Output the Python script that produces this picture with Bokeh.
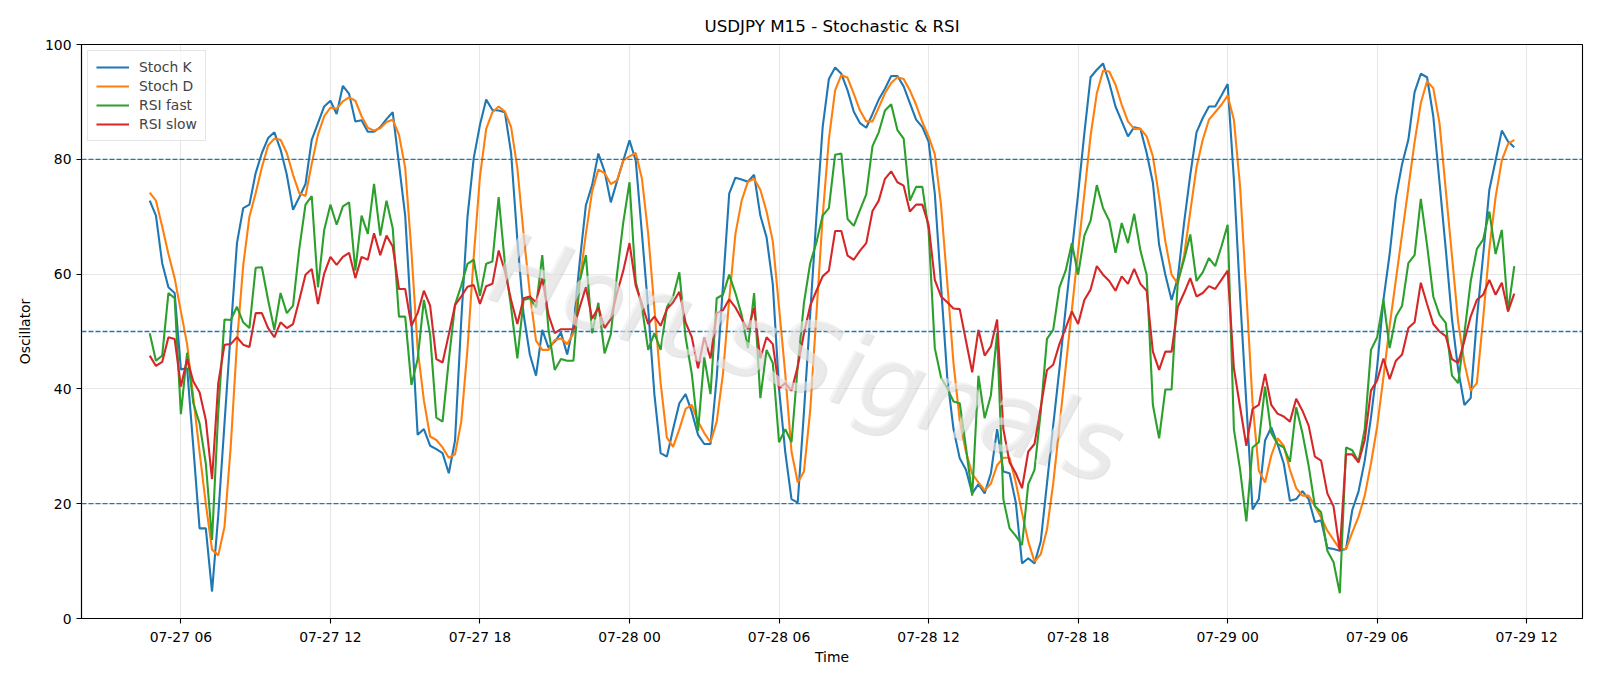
import pandas as pd
from bokeh.plotting import figure
from bokeh.models import ColumnDataSource, Span, Label, FixedTicker, Legend, LegendItem, Range1d
from bokeh.embed import file_html
from bokeh.resources import INLINE

# ---------------- data ----------------
start_time = "2025-07-27 04:45"
n_points = 220

stoch_k = [
    72.8, 70.2, 61.9, 57.7, 56.7, 43.4, 43.6, 29.8, 15.7, 15.7,
    4.7, 18.0, 34.0, 50.0, 65.4, 71.5, 72.1, 77.6, 81.1, 83.7,
    84.7, 81.7, 77.3, 71.2, 73.4, 75.7, 83.4, 86.3, 89.2, 90.2,
    87.9, 92.8, 91.4, 86.6, 86.8, 84.8, 84.8, 85.6, 87.0, 88.2,
    79.2, 70.2, 51.6, 32.0, 33.0, 30.1, 29.5, 28.8, 25.3, 31.0,
    52.0, 70.0, 80.2, 86.0, 90.4, 88.6, 88.5, 88.2, 81.1, 66.0,
    53.0, 46.0, 42.3, 50.3, 47.2, 48.2, 49.8, 46.0, 51.0, 62.0,
    72.0, 75.5, 81.0, 77.9, 72.5, 76.2, 79.8, 83.3, 79.8, 67.0,
    54.0, 39.0, 28.8, 28.2, 33.0, 37.5, 39.1, 36.0, 32.0, 30.4,
    30.4, 42.0, 58.0, 74.0, 76.8, 76.5, 76.1, 77.3, 70.2, 66.4,
    58.2, 40.0, 29.0, 20.8, 20.2, 36.0, 53.0, 70.0, 85.6, 94.0,
    96.0, 94.9, 92.0, 88.3, 86.3, 85.5, 87.9, 90.4, 92.3, 94.5,
    94.5, 92.7, 89.8, 86.9, 85.6, 83.1, 74.0, 58.0, 42.0, 33.0,
    27.9, 25.9, 21.8, 23.4, 21.8, 25.3, 33.0, 25.6, 25.3, 20.2,
    9.6, 10.5, 9.6, 13.4, 23.5, 33.6, 43.5, 54.0, 64.0, 74.0,
    84.5, 94.3, 95.6, 96.7, 93.3, 89.2, 86.6, 84.0, 85.6, 85.3,
    81.1, 75.9, 65.1, 59.9, 55.5, 59.3, 68.9, 77.3, 84.7, 87.2,
    89.2, 89.2, 91.1, 93.1, 76.5, 56.0, 37.5, 19.0, 20.8, 31.0,
    33.3, 30.4, 27.0, 20.5, 20.8, 22.2, 20.8, 16.8, 17.1, 12.3,
    12.1, 11.8, 12.1, 18.9, 22.1, 27.5, 35.0, 43.9, 55.5, 63.5,
    73.4, 79.2, 83.4, 91.7, 94.9, 94.3, 87.5, 76.0, 64.4, 52.2,
    43.3, 37.2, 38.4, 52.2, 63.2, 74.7, 79.8, 85.0, 83.1, 82.1,
]

stoch_d = [
    74.2, 72.8, 68.3, 63.5, 59.3, 53.5, 47.8, 38.5, 29.0, 20.0,
    12.0, 11.0, 16.0, 30.0, 48.0, 61.5, 70.0, 74.1, 78.6, 82.4,
    83.6, 83.4, 81.1, 77.3, 74.1, 73.6, 79.2, 84.3, 87.5, 89.0,
    88.8, 90.1, 90.8, 90.2, 87.5, 85.5, 85.0, 85.4, 86.5, 86.9,
    84.3, 78.5, 64.0, 47.0, 38.0, 31.7, 31.1, 29.8, 28.0, 28.6,
    34.3, 47.0, 63.0, 77.0, 85.3, 88.2, 89.2, 88.3, 85.6, 78.5,
    67.0, 56.7, 48.4, 46.8, 46.8, 48.5, 48.8, 47.8, 49.7, 58.7,
    67.0, 74.4, 78.2, 77.6, 75.7, 76.3, 79.8, 80.5, 81.1, 76.6,
    67.0, 54.0, 41.0, 31.5, 29.9, 33.0, 36.5, 37.2, 34.3, 32.3,
    30.7, 34.3, 42.6, 55.5, 67.0, 72.8, 76.1, 76.6, 74.7, 70.9,
    65.7, 54.2, 42.6, 29.1, 23.7, 25.6, 36.2, 53.0, 70.0, 83.5,
    92.0, 94.7, 94.2, 91.4, 88.5, 86.6, 86.6, 89.0, 91.5, 93.3,
    94.3, 94.0, 92.0, 89.5, 86.5, 84.0, 80.9, 72.0, 58.5, 44.5,
    34.5, 29.0, 25.2, 23.7, 22.3, 23.5, 26.7, 28.0, 28.0, 23.7,
    18.4, 13.4, 9.9, 11.2, 15.5, 23.5, 33.5, 43.7, 53.8, 64.0,
    74.0, 84.1, 91.5, 95.4, 95.3, 93.0, 89.5, 86.6, 85.3, 85.3,
    84.0, 80.5, 73.4, 65.7, 59.9, 58.3, 63.2, 70.9, 78.6, 83.4,
    86.9, 88.2, 89.5, 91.1, 86.9, 75.2, 56.7, 37.5, 25.8, 23.7,
    28.4, 31.4, 30.1, 25.9, 22.7, 21.4, 21.4, 19.6, 17.6, 15.3,
    13.7, 12.1, 12.1, 15.0, 17.7, 21.4, 27.0, 33.5, 42.0, 51.0,
    59.0, 67.0, 75.0, 83.0, 89.8, 93.6, 92.4, 86.3, 74.7, 63.2,
    51.6, 44.5, 39.7, 41.0, 52.2, 64.4, 73.4, 79.8, 82.7, 83.4,
]

rsi_fast = [
    49.7, 44.9, 45.8, 56.7, 55.8, 35.6, 46.3, 37.5, 34.0, 27.0,
    13.7, 36.0, 52.1, 52.0, 54.3, 51.6, 50.6, 61.1, 61.2, 55.5,
    50.3, 56.7, 53.2, 54.5, 64.4, 72.1, 73.6, 57.7, 67.7, 72.1,
    68.6, 71.8, 72.5, 60.6, 70.2, 67.0, 75.7, 66.7, 72.8, 68.0,
    52.6, 52.6, 40.7, 45.2, 55.5, 49.5, 35.0, 34.3, 45.0, 54.7,
    58.0, 61.8, 62.5, 56.2, 61.8, 62.2, 73.4, 61.9, 54.2, 45.3,
    55.5, 55.8, 54.2, 63.3, 50.3, 43.3, 45.2, 44.9, 44.9, 58.7,
    63.3, 49.7, 55.0, 46.2, 49.5, 60.0, 69.0, 76.0, 58.7, 54.2,
    46.8, 49.7, 46.8, 54.2, 56.1, 60.3, 49.0, 42.6, 32.7, 45.5,
    39.1, 55.8, 56.4, 59.9, 56.7, 52.9, 47.1, 56.7, 38.4, 46.8,
    44.5, 30.7, 33.0, 30.7, 43.9, 55.0, 61.9, 65.5, 70.2, 71.5,
    80.8, 81.0, 69.6, 68.4, 71.2, 73.9, 82.3, 84.7, 88.5, 89.6,
    85.1, 83.6, 72.8, 75.2, 75.2, 67.7, 47.1, 42.0, 40.1, 37.8,
    37.5, 29.8, 21.4, 42.3, 34.9, 38.9, 49.7, 20.8, 15.7, 14.4,
    12.8, 23.4, 25.9, 36.0, 48.7, 50.3, 57.7, 60.6, 65.4, 59.9,
    66.7, 69.3, 75.5, 71.5, 69.3, 63.7, 68.9, 65.4, 70.5, 64.1,
    59.9, 37.2, 31.4, 39.9, 39.9, 58.7, 62.5, 66.9, 58.8, 60.3,
    62.8, 61.4, 64.8, 68.6, 33.0, 25.9, 16.9, 29.8, 30.7, 40.4,
    32.3, 30.4, 29.8, 27.3, 36.8, 32.3, 26.6, 19.6, 18.5, 11.8,
    9.8, 4.4, 29.8, 29.3, 27.3, 33.0, 46.8, 49.0, 55.5, 47.1,
    52.6, 54.5, 61.9, 63.3, 73.1, 65.1, 56.1, 52.9, 51.5, 42.3,
    41.0, 49.7, 58.7, 64.4, 66.0, 70.9, 63.5, 67.7, 53.5, 61.4,
]

rsi_slow = [
    45.8, 44.0, 44.7, 49.0, 48.7, 40.4, 45.2, 41.3, 39.4, 34.6,
    24.3, 41.0, 47.7, 47.8, 49.0, 47.7, 47.3, 53.2, 53.2, 50.6,
    49.0, 51.6, 50.6, 51.3, 55.5, 59.9, 60.9, 54.8, 60.1, 63.0,
    61.6, 63.0, 63.7, 59.3, 63.0, 62.5, 67.1, 63.3, 66.7, 64.8,
    57.4, 57.4, 51.0, 53.2, 57.1, 54.5, 45.2, 44.6, 49.5, 54.6,
    56.1, 57.8, 58.1, 54.8, 57.9, 58.3, 64.1, 60.5, 55.5, 51.3,
    55.8, 56.1, 55.1, 59.3, 52.9, 49.7, 50.4, 50.4, 50.4, 54.2,
    57.7, 52.2, 54.2, 50.6, 52.2, 56.7, 60.6, 65.4, 58.0, 54.8,
    51.3, 52.6, 51.0, 53.9, 55.1, 56.9, 51.6, 49.0, 43.6, 49.0,
    45.3, 53.2, 53.7, 55.6, 54.2, 52.2, 50.4, 54.1, 45.3, 49.0,
    47.8, 40.1, 41.0, 39.7, 43.9, 49.7, 54.5, 57.1, 59.6, 60.6,
    67.5, 67.5, 63.2, 62.5, 64.1, 65.4, 71.0, 72.8, 76.6, 77.9,
    76.0, 75.4, 70.9, 72.1, 72.1, 68.6, 59.0, 56.1, 55.1, 54.0,
    53.9, 48.4, 42.9, 50.3, 45.8, 47.4, 52.1, 33.0, 27.2, 25.3,
    22.7, 29.1, 30.4, 36.8, 43.3, 44.2, 47.8, 50.6, 53.5, 51.3,
    55.5, 57.3, 61.4, 59.9, 58.8, 57.1, 59.6, 58.3, 60.9, 58.3,
    57.1, 46.5, 43.3, 46.5, 46.5, 54.3, 56.7, 59.3, 56.1, 56.7,
    57.9, 57.4, 59.0, 60.6, 43.6, 36.8, 30.1, 36.5, 37.2, 42.6,
    37.2, 35.7, 35.2, 34.3, 38.3, 36.2, 33.6, 28.2, 27.5, 21.8,
    19.5, 11.8, 28.6, 28.6, 27.2, 31.1, 39.7, 41.5, 45.3, 41.7,
    44.9, 46.0, 50.6, 51.6, 58.5, 54.8, 51.3, 50.0, 49.2, 45.2,
    44.5, 48.4, 52.6, 55.5, 56.4, 59.0, 56.4, 58.5, 53.5, 56.6,
]

x_tick_labels = ["07-27 06", "07-27 12", "07-27 18", "07-28 00", "07-28 06",
                 "07-28 12", "07-28 18", "07-29 00", "07-29 06", "07-29 12"]
y_ticks = [0, 20, 40, 60, 80, 100]
levels = [20, 50, 80]
series_names = ["Stoch K", "Stoch D", "RSI fast", "RSI slow"]
series_colors = ["#1f77b4", "#ff7f0e", "#2ca02c", "#d62728"]
title_text = "USDJPY M15 - Stochastic & RSI"
watermark_text = "HorusSignals"

# ---------------- build ----------------
times = pd.date_range(start_time, periods=n_points, freq="15min")
source = ColumnDataSource(dict(t=times, k=stoch_k, d=stoch_d, rf=rsi_fast, rs=rsi_slow))

def to_ms(ts):
    return pd.Timestamp(ts).timestamp() * 1000.0

t0 = to_ms(times[0])
t1 = to_ms(times[-1])
pad = 0.05 * (t1 - t0)

FONT = "DejaVu Sans"

p = figure(width=1600, height=686, x_axis_type="datetime",
           output_backend="svg", toolbar_location=None,
           x_range=Range1d(t0 - pad, t1 + pad), y_range=Range1d(0, 100),
           min_border_left=81, min_border_right=18,
           min_border_top=44, min_border_bottom=68)

p.background_fill_color = "white"
p.border_fill_color = "white"
p.outline_line_color = "black"
p.outline_line_width = 1.1
p.outline_line_alpha = 1.0

# title
p.title.text = title_text
p.title.align = "center"
p.title.text_font = FONT
p.title.text_font_size = "16.7px"
p.title.text_font_style = "normal"
p.title.text_color = "black"
p.title.standoff = 18

# ticks
tick_years = [pd.Timestamp("2025-" + lab[:5] + " " + lab[6:] + ":00") for lab in x_tick_labels]
tick_ms = [to_ms(t) for t in tick_years]
p.xaxis.ticker = FixedTicker(ticks=tick_ms)
p.xaxis.major_label_overrides = {float(v): lab for v, lab in zip(tick_ms, x_tick_labels)}
p.yaxis.ticker = FixedTicker(ticks=y_ticks)

for ax in (p.xaxis[0], p.yaxis[0]):
    ax.axis_line_color = "black"
    ax.axis_line_width = 1.1
    ax.major_tick_line_color = "black"
    ax.major_tick_line_width = 1.1
    ax.major_tick_out = 5
    ax.major_tick_in = 0
    ax.minor_tick_line_color = None
    ax.major_label_text_font = FONT
    ax.major_label_text_font_size = "13.9px"
    ax.major_label_text_color = "black"
    ax.major_label_standoff = 5
    ax.axis_label_text_font = FONT
    ax.axis_label_text_font_size = "13.9px"
    ax.axis_label_text_font_style = "normal"
    ax.axis_label_text_color = "black"

p.xaxis.axis_label = "Time"
p.xaxis.axis_label_standoff = 1
p.yaxis.axis_label = "Oscillator"
p.yaxis.axis_label_standoff = 9

p.xgrid.grid_line_color = "#b0b0b0"
p.xgrid.grid_line_alpha = 0.3
p.xgrid.grid_line_width = 1.1
p.ygrid.grid_line_color = "#b0b0b0"
p.ygrid.grid_line_alpha = 0.3
p.ygrid.grid_line_width = 1.1

renderers = []
for col, name, color in zip(["k", "d", "rf", "rs"], series_names, series_colors):
    r = p.line("t", col, source=source, line_color=color, line_width=2.1)
    renderers.append(r)

for lv in levels:
    p.add_layout(Span(location=lv, dimension="width", line_color="#1f77b4",
                      line_dash="5 2", line_width=1.3))

# watermark
wm_x = to_ms("2025-07-28 07:05")
wm_y = 45.5
p.add_layout(Label(x=wm_x, y=wm_y, x_offset=2, y_offset=-2, text=watermark_text,
                   text_font=FONT, text_font_size="100px", text_font_style="italic",
                   text_color="#8c8c8c", text_alpha=0.22, angle=-0.29,
                   text_align="center", text_baseline="middle"))
p.add_layout(Label(x=wm_x, y=wm_y, text=watermark_text,
                   text_font=FONT, text_font_size="100px", text_font_style="italic",
                   text_color="#ececec", text_alpha=0.6, angle=-0.29,
                   text_align="center", text_baseline="middle"))

legend = Legend(items=[LegendItem(label=n, renderers=[r]) for n, r in zip(series_names, renderers)],
                location="top_left")
legend.margin = 6
legend.padding = 8
legend.spacing = 3
legend.glyph_height = 16
legend.glyph_width = 33
legend.label_standoff = 10
legend.label_text_font = FONT
legend.label_text_font_size = "13.9px"
legend.label_height = 16
legend.border_line_color = "#cccccc"
legend.border_line_width = 1
legend.background_fill_alpha = 0.8
p.add_layout(legend)

open("out.html", "w").write(file_html(p, INLINE))
